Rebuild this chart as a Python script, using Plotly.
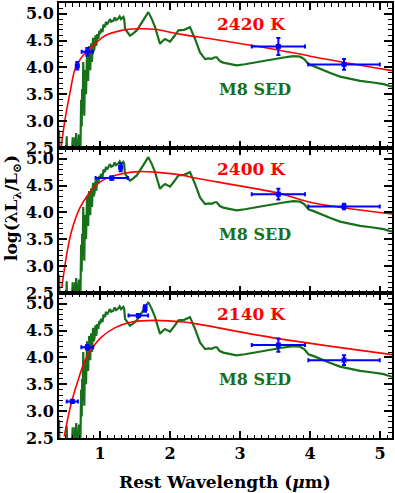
import plotly.graph_objects as go
from plotly.subplots import make_subplots

# ---- M8 SED template (same in all panels) ----
sed_wl = [0.414, 0.418, 0.42, 0.52, 0.522, 0.524, 0.527, 0.60, 0.605, 0.61, 0.615, 0.64, 0.645, 0.65,
          0.66, 0.665, 0.67, 0.69, 0.70, 0.705, 0.715, 0.72,
          0.73, 0.738, 0.745, 0.752, 0.76, 0.768, 0.775, 0.782, 0.79, 0.80, 0.808, 0.815, 0.822,
          0.83, 0.838, 0.845, 0.852, 0.86, 0.868, 0.875, 0.885, 0.893,
          0.90, 0.91, 0.92, 0.935, 0.945, 0.95, 0.96, 0.976, 0.99, 1.0, 1.015, 1.035, 1.05,
          1.071, 1.085, 1.1, 1.119, 1.14, 1.16, 1.19, 1.21, 1.23, 1.26, 1.28, 1.30, 1.333,
          1.345, 1.357, 1.39, 1.428, 1.47, 1.524, 1.56, 1.60, 1.65, 1.69, 1.74, 1.786, 1.82,
          1.857, 1.9, 1.93, 1.97, 2.0, 2.06, 2.12, 2.20, 2.285,
          2.357, 2.428, 2.5, 2.55, 2.595, 2.64, 2.667, 2.71, 2.76, 2.85, 2.95, 3.07, 3.19, 3.33,
          3.476, 3.6, 3.76, 3.857, 3.92, 3.976,
          4.06, 4.143, 4.28, 4.428, 4.57, 4.714, 4.9, 5.05, 5.17]
sed_lum = [2.84, 2.60, 2.45, 2.45, 2.60, 2.72, 2.45, 2.45, 2.62, 2.70, 2.45, 2.45, 2.70, 2.45,
           2.78, 2.55, 2.45, 2.45, 2.75, 2.50, 2.70, 2.45,
           3.40, 2.90, 3.60, 3.20, 4.10, 3.60, 3.10, 3.70, 3.95, 3.50, 3.90, 4.30, 3.85,
           3.75, 4.20, 4.40, 4.00, 3.95, 4.35, 4.45, 4.10, 4.30,
           4.55, 4.30, 4.35, 4.60, 4.40, 4.45, 4.62, 4.53, 4.68, 4.62, 4.72, 4.66, 4.80,
           4.75, 4.85, 4.80, 4.84, 4.90, 4.85, 4.87, 4.93, 4.88, 4.91, 4.95, 4.90, 4.94,
           4.90, 4.72, 4.66, 4.59, 4.63, 4.69, 4.76, 4.85, 4.95, 5.03, 4.90, 4.75, 4.60,
           4.44, 4.50, 4.53, 4.50, 4.48, 4.58, 4.69, 4.70, 4.75,
           4.53, 4.28, 4.155, 4.17, 4.16, 4.19, 4.19, 4.12, 4.09, 4.06, 4.04, 4.06, 4.09, 4.12,
           4.155, 4.18, 4.21, 4.20, 4.15, 4.06,
           4.02, 3.97, 3.90, 3.83, 3.79, 3.75, 3.72, 3.69, 3.64]

# ---- blackbody fits ----
bb1_wl = [0.443, 0.50, 0.571, 0.643, 0.72, 0.818, 0.928, 1.07, 1.31, 1.547, 1.786, 2.14, 2.6, 3.17, 3.857, 4.0, 5.17]
bb1_lum = [2.50, 3.03, 3.53, 3.97, 4.16, 4.31, 4.44, 4.59, 4.69, 4.72, 4.71, 4.62, 4.53, 4.41, 4.25, 4.21, 3.94]
bb2_wl = [0.453, 0.524, 0.595, 0.714, 0.833, 0.952, 1.07, 1.31, 1.547, 1.786, 2.19, 2.357, 3.547, 4.0, 5.19]
bb2_lum = [2.59, 3.22, 3.66, 4.09, 4.34, 4.52, 4.62, 4.72, 4.76, 4.75, 4.69, 4.64, 4.36, 4.19, 3.97]
bb3_wl = [0.49, 0.547, 0.604, 0.69, 0.785, 0.88, 1.02, 1.21, 1.45, 1.786, 2.19, 2.357, 3.547, 5.19]
bb3_lum = [2.53, 2.91, 3.22, 3.59, 3.94, 4.16, 4.38, 4.55, 4.66, 4.69, 4.66, 4.63, 4.35, 4.05]

# ---- photometry ----
p1_wl = [0.675, 0.818, 3.547, 4.485]
p1_lum = [4.03, 4.29, 4.39, 4.056]
p1_xerr = [0.015, 0.08, 0.38, 0.51]
p1_yerr = [0.07, 0.07, 0.156, 0.10]

p2_wl = [1.295, 1.167, 3.547, 4.485]
p2_lum = [4.84, 4.64, 4.34, 4.11]
p2_xerr = [0.015, 0.23, 0.38, 0.51]
p2_yerr = [0.075, 0.03, 0.10, 0.05]

p3_wl = [0.604, 0.818, 1.547, 1.643, 3.547, 4.485]
p3_lum = [3.18, 4.19, 4.78, 4.91, 4.23, 3.95]
p3_xerr = [0.08, 0.085, 0.14, 0.015, 0.38, 0.51]
p3_yerr = [0.03, 0.04, 0.03, 0.06, 0.125, 0.09]

temps = ["2420 K", "2400 K", "2140 K"]
xticks = [1, 2, 3, 4, 5]

RED = "#ff0000"
GREEN = "#17701a"
BLUE = "#0000ff"
FONT = "DejaVu Serif"

fig = make_subplots(rows=3, cols=1, shared_xaxes=True, vertical_spacing=0)

bbs = [(bb1_wl, bb1_lum), (bb2_wl, bb2_lum), (bb3_wl, bb3_lum)]
pts = [(p1_wl, p1_lum, p1_xerr, p1_yerr), (p2_wl, p2_lum, p2_xerr, p2_yerr),
       (p3_wl, p3_lum, p3_xerr, p3_yerr)]

for i in range(3):
    r = i + 1
    fig.add_trace(go.Scatter(x=sed_wl, y=sed_lum, mode="lines",
                             line=dict(color=GREEN, width=2.2), showlegend=False), row=r, col=1)
    fig.add_trace(go.Scatter(x=bbs[i][0], y=bbs[i][1], mode="lines",
                             line=dict(color=RED, width=1.6, shape="spline"), showlegend=False), row=r, col=1)
    wl, lum, xe, ye = pts[i]
    fig.add_trace(go.Scatter(x=wl, y=lum, mode="markers",
                             marker=dict(symbol="square", size=5, color=BLUE),
                             error_x=dict(type="data", array=xe, color=BLUE, thickness=2, width=2),
                             error_y=dict(type="data", array=ye, color=BLUE, thickness=2, width=2),
                             showlegend=False), row=r, col=1)
    yref = "y" if r == 1 else f"y{r}"
    xref = "x" if r == 1 else f"x{r}"
    fig.add_annotation(x=3.17, y=4.81, xref=xref, yref=yref, text=temps[i], showarrow=False,
                       font=dict(family=FONT, size=17, color=RED, weight="bold"),
                       xanchor="center", yanchor="middle")
    fig.add_annotation(x=3.21, y=3.59, xref=xref, yref=yref, text="M8 SED", showarrow=False,
                       font=dict(family=FONT, size=16, color=GREEN, weight="bold"),
                       xanchor="center", yanchor="middle")

axis_common = dict(showline=True, linewidth=2, linecolor="black", mirror="allticks",
                   ticks="inside", tickcolor="black", tickwidth=1.5, showgrid=False, zeroline=False,
                   tickfont=dict(family=FONT, size=16, color="black", weight="bold"))

for r in range(1, 4):
    fig.update_xaxes(range=[0.414, 5.17], tickvals=xticks, ticklen=7,
                     minor=dict(dtick=0.1, tick0=0, ticklen=3.5, ticks="inside", tickcolor="black", tickwidth=1),
                     showticklabels=(r == 3), row=r, col=1, **axis_common)
    fig.update_yaxes(range=[2.5, 5.2], tick0=2.5, dtick=0.5, tickformat=".1f", ticklen=8,
                     minor=dict(dtick=0.1, tick0=2.5, ticklen=4, ticks="inside", tickcolor="black", tickwidth=1),
                     row=r, col=1, **axis_common)

fig.add_annotation(text="Rest Wavelength (<i>μ</i>m)", showarrow=False,
                   font=dict(family=FONT, size=17, color="black", weight="bold"),
                   xref="paper", yref="paper", x=(225 - 59) / 333, y=-(482 - 438) / 437,
                   xanchor="center", yanchor="middle")
fig.add_annotation(text="log(λL<sub>λ</sub>/L<sub>⊙</sub>)", textangle=-90, showarrow=False,
                   font=dict(family=FONT, size=17, color="black", weight="bold"),
                   xref="paper", yref="paper", x=-(59 - 12) / 333, y=1 - (207 - 1) / 437,
                   xanchor="center", yanchor="middle")

fig.update_layout(width=395, height=493, margin=dict(l=59, r=3, t=1, b=55),
                  plot_bgcolor="white", paper_bgcolor="white", showlegend=False)

fig.write_html("out.html", config={"displayModeBar": False},
               post_script="document.body.style.margin='0';document.body.style.overflow='hidden';")
